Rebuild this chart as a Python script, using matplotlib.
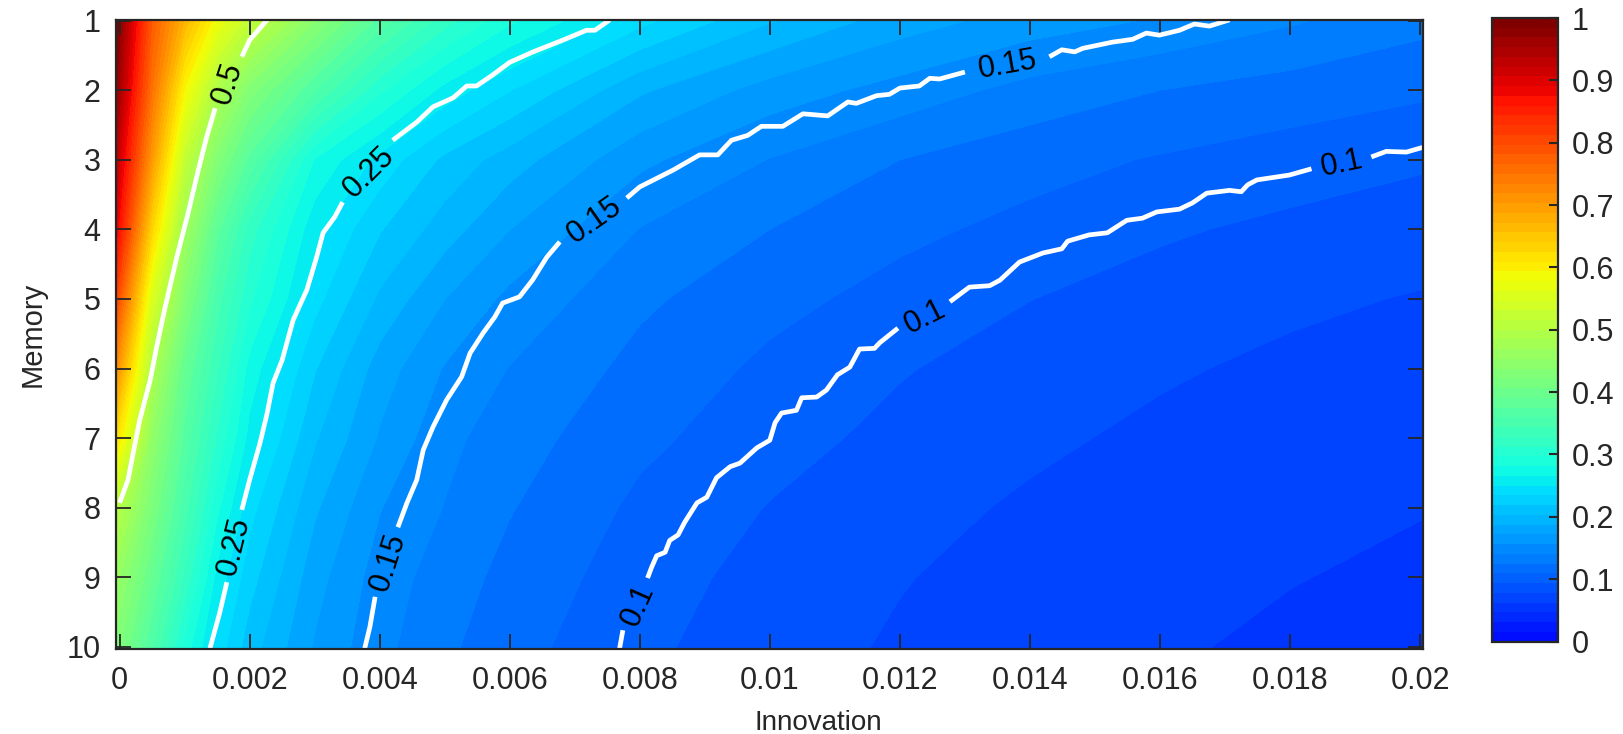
import numpy as np
import matplotlib
matplotlib.use("Agg")
import matplotlib.pyplot as plt
from matplotlib.colors import ListedColormap

plt.rcParams['font.family'] = ['Liberation Sans', 'DejaVu Sans']

# grid
innovation = [0, 0.0005, 0.001, 0.0015, 0.002, 0.003, 0.004, 0.005, 0.006, 0.008, 0.01, 0.012, 0.014, 0.016, 0.018, 0.02]
memory = [1, 2, 3, 4, 5, 6, 7, 8, 9, 10]
values = [
    [1.00, 0.78, 0.67, 0.58, 0.52, 0.44, 0.37, 0.32, 0.285, 0.24, 0.205, 0.18, 0.165, 0.155, 0.143, 0.13],
    [0.97, 0.75, 0.59, 0.49, 0.43, 0.36, 0.30, 0.26, 0.235, 0.19, 0.165, 0.15, 0.135, 0.125, 0.118, 0.112],
    [0.93, 0.70, 0.52, 0.43, 0.37, 0.28, 0.245, 0.215, 0.195, 0.16, 0.14, 0.125, 0.115, 0.108, 0.102, 0.096],
    [0.89, 0.63, 0.47, 0.38, 0.32, 0.255, 0.22, 0.195, 0.172, 0.14, 0.125, 0.113, 0.105, 0.096, 0.09, 0.085],
    [0.81, 0.55, 0.43, 0.35, 0.30, 0.24, 0.20, 0.172, 0.152, 0.128, 0.114, 0.104, 0.094, 0.087, 0.081, 0.077],
    [0.72, 0.49, 0.39, 0.33, 0.275, 0.22, 0.18, 0.155, 0.14, 0.12, 0.106, 0.095, 0.086, 0.08, 0.075, 0.071],
    [0.62, 0.45, 0.37, 0.31, 0.26, 0.205, 0.17, 0.145, 0.132, 0.113, 0.10, 0.089, 0.081, 0.075, 0.07, 0.067],
    [0.505, 0.42, 0.35, 0.285, 0.24, 0.19, 0.157, 0.14, 0.126, 0.106, 0.093, 0.083, 0.076, 0.07, 0.066, 0.063],
    [0.46, 0.39, 0.325, 0.26, 0.225, 0.178, 0.149, 0.133, 0.12, 0.101, 0.088, 0.079, 0.072, 0.067, 0.063, 0.06],
    [0.43, 0.36, 0.29, 0.243, 0.21, 0.17, 0.145, 0.128, 0.115, 0.097, 0.085, 0.076, 0.07, 0.064, 0.06, 0.057],
]

# white contour lines, nan marks the gap left for a label
nan = float('nan')
c50_x = [0.00227, 0.00200, 0.00188, nan, 0.00147, 0.00134, 0.00121, 0.00104, 0.00088, 0.00070, 0.00057, 0.00047, 0.00031, 0.00021, 0.00013, 0.0]
c50_y = [0.99, 1.28, 1.52, nan, 2.26, 2.67, 3.15, 3.82, 4.40, 5.12, 5.69, 6.17, 6.74, 7.21, 7.60, 7.93]

c25_x = [0.00754, 0.00731, 0.00718, 0.00682, 0.00636, 0.00600, 0.00574, 0.00549, 0.00534, 0.00513, 0.00482, 0.00457, 0.00420, nan,
         0.00343, 0.00331, 0.00313, 0.00303, 0.00288, 0.00267, 0.00250, 0.00236, 0.00227, 0.00216, 0.00200, 0.00188, nan,
         0.00165, 0.00154, 0.00139]
c25_y = [0.99, 1.14, 1.14, 1.28, 1.45, 1.60, 1.78, 1.94, 1.94, 2.11, 2.24, 2.46, 2.72, nan,
         3.61, 3.82, 4.05, 4.40, 4.87, 5.30, 5.88, 6.21, 6.64, 7.07, 7.60, 8.03, nan,
         9.07, 9.51, 10.02]

c15_x = [0.01707, 0.01676, 0.01653, 0.01630, 0.01599, 0.01579, 0.01558, 0.01527, 0.01481, 0.01469, 0.01449, 0.01430, nan,
         0.01300, 0.01261, 0.01246, 0.01230, 0.01200, 0.01184, 0.01164, 0.01133, 0.01120, 0.01089, 0.01051, 0.01020, 0.00987,
         0.00966, 0.00941, 0.00920, 0.00892, 0.00851, 0.00800, 0.00780, nan,
         0.00677, 0.00657, 0.00635, 0.00615, 0.00589, 0.00577, 0.00559, 0.00539, 0.00526, 0.00503, 0.00482, 0.00467, 0.00457,
         0.00442, 0.00428, nan,
         0.00393, 0.00385, 0.00377]
c15_y = [0.99, 1.08, 1.05, 1.14, 1.21, 1.18, 1.27, 1.31, 1.40, 1.45, 1.42, 1.52, nan,
         1.74, 1.84, 1.83, 1.94, 1.97, 2.06, 2.08, 2.19, 2.17, 2.37, 2.34, 2.52, 2.52,
         2.65, 2.72, 2.93, 2.93, 3.15, 3.39, 3.55, nan,
         4.18, 4.40, 4.73, 4.97, 5.06, 5.26, 5.49, 5.78, 6.12, 6.45, 6.84, 7.17, 7.60,
         7.93, 8.28, nan,
         9.28, 9.71, 10.02]

c10_x = [0.02005, 0.01979, 0.01948, 0.01925, nan,
         0.01833, 0.01799, 0.01749, 0.01735, 0.01725, 0.01707, 0.01672, 0.01650, 0.01630, 0.01595, 0.01573, 0.01549, 0.01519,
         0.01491, 0.01458, 0.01449, 0.01420, 0.01384, 0.01354, 0.01338, 0.01307, 0.01277, nan,
         0.01197, 0.01169, 0.01161, 0.01138, 0.01123, 0.01104, 0.01087, 0.01072, 0.01049, 0.01041, 0.01018, 0.01008, 0.01000,
         0.00980, 0.00954, 0.00939, 0.00918, 0.00903, 0.00888, 0.00869, 0.00859, 0.00846, 0.00839, 0.00826, 0.00818, 0.00812, nan,
         0.00774, 0.00769]
c10_y = [2.82, 2.89, 2.88, 2.96, nan,
         3.13, 3.22, 3.29, 3.36, 3.46, 3.44, 3.48, 3.62, 3.71, 3.75, 3.84, 3.87, 4.05,
         4.08, 4.17, 4.28, 4.34, 4.47, 4.73, 4.81, 4.83, 5.04, nan,
         5.42, 5.63, 5.71, 5.72, 5.98, 6.09, 6.31, 6.41, 6.42, 6.60, 6.64, 6.78, 7.03,
         7.14, 7.36, 7.41, 7.57, 7.85, 7.93, 8.21, 8.39, 8.47, 8.64, 8.69, 8.86, 9.01, nan,
         9.76, 10.02]

# inline labels: text, x, y, angle
label_text = ['0.5', '0.25', '0.25', '0.15', '0.15', '0.15', '0.1', '0.1', '0.1']
label_x = [0.00167, 0.00383, 0.00176, 0.00413, 0.00731, 0.01366, 0.00797, 0.01238, 0.01879]
label_y = [1.90, 3.18, 8.56, 8.78, 3.87, 1.64, 9.40, 5.27, 3.06]
label_rot = [72, 45, 76, 72, 35, 10, 66, 27, 12]

xticks = [0, 0.002, 0.004, 0.006, 0.008, 0.01, 0.012, 0.014, 0.016, 0.018, 0.02]
xtick_labels = ['0', '0.002', '0.004', '0.006', '0.008', '0.01', '0.012', '0.014', '0.016', '0.018', '0.02']
cbar_ticks = [0, 0.1, 0.2, 0.3, 0.4, 0.5, 0.6, 0.7, 0.8, 0.9, 1]
cbar_labels = ['0', '0.1', '0.2', '0.3', '0.4', '0.5', '0.6', '0.7', '0.8', '0.9', '1']

xlim = (-0.000055, 0.020045)
ylim = (10.03, 0.985)
dark = '#262626'

# jet without its darkest blues, 64 steps
cmap = ListedColormap(plt.cm.jet(np.linspace(0.138, 1, 64)))

W, H = 1624, 734
fig = plt.figure(figsize=(W / 100, H / 100), dpi=100)
ax = fig.add_axes([116 / W, (H - 649) / H, 1307 / W, 629.5 / H])
cax = fig.add_axes([1492 / W, (H - 641.5) / H, 66 / W, 623.5 / H])

# stretch the outer grid lines to the frame
x_grid = np.array(innovation)
x_grid[0], x_grid[-1] = xlim
y_grid = np.array(memory, dtype=float)
y_grid[0], y_grid[-1] = ylim[1], ylim[0]
cs = ax.contourf(x_grid, y_grid, np.array(values), levels=np.linspace(0, 1, 65), cmap=cmap)

for cx, cy in [(c50_x, c50_y), (c25_x, c25_y), (c15_x, c15_y), (c10_x, c10_y)]:
    ax.plot(cx, cy, color='white', lw=3.4, solid_capstyle='butt', solid_joinstyle='round')

for t, lx, ly, r in zip(label_text, label_x, label_y, label_rot):
    ax.text(lx, ly, t, fontsize=22, color='black', rotation=r, rotation_mode='anchor', ha='center', va='center')

ax.set_xlim(xlim)
ax.set_ylim(ylim)
ax.set_xticks(xticks)
ax.set_xticklabels(xtick_labels)
ax.set_yticks(memory)
ax.tick_params(axis='both', direction='in', top=True, right=True, length=10.8, width=1.3,
               color=dark, labelcolor=dark, labelsize=22)
ax.tick_params(axis='x', pad=12)
ax.tick_params(axis='y', pad=11)
for s in ax.spines.values():
    s.set_linewidth(1.6)
    s.set_color(dark)
ax.set_xlabel('Innovation', fontsize=20, color=dark, x=0.537, labelpad=10)
ax.set_ylabel('Memory', fontsize=21, color=dark, labelpad=0)
ax.yaxis.set_label_coords((47 - 116) / 1307, 0.5)

cb = fig.colorbar(cs, cax=cax)
cb.set_ticks(cbar_ticks)
cb.set_ticklabels(cbar_labels)
cb.ax.tick_params(direction='in', length=6.5, width=1.5, color=dark, labelcolor=dark, labelsize=22, pad=10)
cb.ax.minorticks_off()
cb.outline.set_linewidth(1.6)
cb.outline.set_edgecolor(dark)

fig.savefig('out.png', dpi=100)
